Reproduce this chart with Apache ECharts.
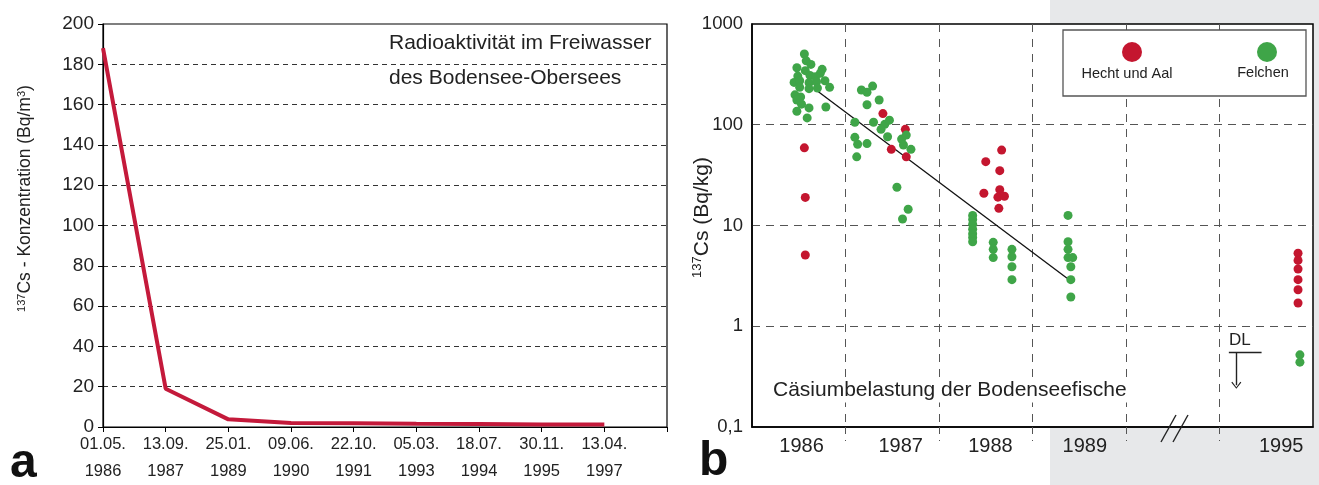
<!DOCTYPE html>
<html lang="de">
<head>
<meta charset="UTF-8">
<title>Cäsium im Bodensee</title>
<script src="https://cdn.jsdelivr.net/npm/echarts@6/dist/echarts.min.js"></script>
<style>
  html, body { margin: 0; padding: 0; }
  #chart { width: 1319px; height: 485px; }
</style>
</head>
<body>
<div id="chart"></div>
<script>
// --- Daten ---
// a: Freiwasser
var waterDates = ['01.05.\n1986', '13.09.\n1987', '25.01.\n1989', '09.06.\n1990', '22.10.\n1991',
                  '05.03.\n1993', '18.07.\n1994', '30.11.\n1995', '13.04.\n1997'];
var waterValues = [188, 19, 3.8, 2, 1.8, 1.6, 1.5, 1.3, 1.2];

// b: Fische  [x-Position (Abschnitt), Bq/kg]
var hechtAal = [
  [0.56, 59], [0.57, 19], [0.57, 5.1],
  [1.40, 129], [1.64, 90], [1.49, 57], [1.65, 48],
  [2.67, 56], [2.50, 43], [2.65, 35], [2.65, 22.7], [2.48, 20.9], [2.63, 19.1], [2.70, 19.5], [2.64, 14.8],
  [5.84, 5.3], [5.84, 4.5], [5.84, 3.7], [5.84, 2.9], [5.84, 2.3], [5.84, 1.7]
];
var felchen = [
  [0.56, 504], [0.58, 431], [0.63, 397], [0.48, 368], [0.57, 344], [0.75, 355], [0.73, 324],
  [0.49, 304], [0.62, 309], [0.68, 299], [0.45, 263], [0.51, 273], [0.61, 261], [0.69, 267],
  [0.78, 273], [0.51, 235], [0.61, 228], [0.70, 231], [0.83, 235], [0.46, 198], [0.52, 189],
  [0.48, 176], [0.53, 160], [0.61, 147], [0.79, 150], [0.48, 136], [0.59, 117],
  [1.17, 221], [1.23, 210], [1.29, 242], [1.36, 176], [1.23, 158], [1.10, 106], [1.30, 106],
  [1.42, 101], [1.47, 111], [1.38, 90], [1.45, 76], [1.10, 75], [1.13, 64], [1.23, 65],
  [1.12, 48], [1.60, 72], [1.65, 79], [1.62, 63], [1.70, 57], [1.55, 24], [1.67, 14.5], [1.61, 11.6],
  [2.36, 12.6], [2.36, 11.5], [2.36, 10.3], [2.36, 9.2], [2.36, 8.3], [2.36, 7.6], [2.36, 6.9],
  [2.58, 6.8], [2.58, 5.8], [2.58, 4.8],
  [2.78, 5.8], [2.78, 4.9], [2.78, 3.9], [2.78, 2.9],
  [3.38, 12.6], [3.38, 6.9], [3.38, 5.8], [3.38, 4.8], [3.43, 4.8], [3.41, 3.9], [3.41, 2.9], [3.41, 1.95],
  [5.86, 0.52], [5.86, 0.44]
];
var trend = [[0.66, 230], [3.37, 3.0]];
var yearPos = [0.53, 1.59, 2.55, 3.56, 5.66];
var yearLabels = ['1986', '1987', '1988', '1989', '1995'];
var sectionLines = [1, 2, 3, 4, 5];
var dlLevel = 0.55, dlFrom = 5.10, dlTo = 5.45, dlArrowX = 5.18, dlArrowEnd = 0.26;

var font = "'Liberation Sans', Arial, sans-serif";
var red = '#c4162f', green = '#3fa548', ink = '#222';

var chart = echarts.init(document.getElementById('chart'));

var option = {
  animation: false,
  backgroundColor: {
    type: 'linear', x: 0, y: 0, x2: 1, y2: 0,
    colorStops: [
      { offset: 0, color: '#ffffff' },
      { offset: 1050 / 1319, color: '#ffffff' },
      { offset: 1050 / 1319, color: '#e7e8ea' },
      { offset: 1, color: '#e7e8ea' }
    ]
  },
  grid: [
    { left: 103, top: 24, width: 564, height: 403, show: true, backgroundColor: '#fff', borderColor: '#000', borderWidth: 1.2 },
    { left: 752, top: 24, width: 561, height: 403, show: true, backgroundColor: '#fff', borderColor: '#000', borderWidth: 1.5 }
  ],
  xAxis: [
    {
      gridIndex: 0, type: 'value', min: 0, max: 9, interval: 1,
      axisLine: { lineStyle: { color: '#000', width: 1.2 } },
      axisTick: { show: true, length: 5, lineStyle: { color: '#000' } },
      splitLine: { show: false },
      axisLabel: {
        margin: 4, color: ink, fontFamily: font, fontSize: 16.5, lineHeight: 27,
        formatter: function (v) { return waterDates[v] || ''; }
      }
    },
    {
      gridIndex: 1, type: 'value', min: 0, max: 6,
      axisLine: { lineStyle: { color: '#000', width: 1.5 } },
      axisTick: { show: true, customValues: sectionLines, length: 14, lineStyle: { color: '#555', type: [7, 6] } },
      splitLine: { show: true, lineStyle: { color: '#555', type: [8, 7], width: 1 } },
      axisLabel: {
        customValues: yearPos, margin: 9, color: ink, fontFamily: font, fontSize: 20,
        formatter: function (v) {
          var i = yearPos.indexOf(v);
          return i >= 0 ? yearLabels[i] : '';
        }
      }
    }
  ],
  yAxis: [
    {
      gridIndex: 0, type: 'value', min: 0, max: 200, interval: 20,
      name: '{sup|137}Cs - Konzentration (Bq/m{sup|3})',
      nameLocation: 'middle', nameRotate: 90, nameGap: 68, nameMoveOverlap: false,
      nameTextStyle: {
        color: ink, fontFamily: font, fontSize: 17.5, padding: [0, 0, 0, 54],
        rich: { sup: { fontSize: 11, verticalAlign: 'top', padding: [0, 0, 8, 0], fontFamily: font, color: ink } }
      },
      axisLine: { show: true, lineStyle: { color: '#000', width: 1.2 } },
      axisTick: { show: true, length: 5, lineStyle: { color: '#000' } },
      splitLine: { show: true, showMinLine: false, showMaxLine: false, lineStyle: { color: '#333', type: [5, 4], width: 1 } },
      axisLabel: { margin: 9, color: ink, fontFamily: font, fontSize: 19 }
    },
    {
      gridIndex: 1, type: 'log', logBase: 10, min: 0.1, max: 1000,
      name: '{sup|137}Cs (Bq/kg)',
      nameLocation: 'middle', nameRotate: 90, nameGap: 39, nameMoveOverlap: false,
      nameTextStyle: {
        color: ink, fontFamily: font, fontSize: 21, padding: [0, 0, 0, 16],
        rich: { sup: { fontSize: 13, verticalAlign: 'top', padding: [0, 0, 9, 0], fontFamily: font, color: ink } }
      },
      axisLine: { show: true, lineStyle: { color: '#000', width: 1.5 } },
      axisTick: { show: false },
      splitLine: { show: true, showMinLine: false, showMaxLine: false, lineStyle: { color: '#555', type: [8, 6], width: 1 } },
      axisLabel: {
        margin: 9, color: ink, fontFamily: font, fontSize: 18.5,
        formatter: function (v) { return v < 1 ? '0,1' : String(Math.round(v)); }
      }
    }
  ],
  legend: [
    { data: ['Hecht und Aal'], left: 1117, top: 36, icon: 'circle', itemWidth: 20, itemHeight: 22,
      formatter: function () { return ''; }, selectedMode: false, z: 6 },
    { data: ['Felchen'], left: 1252, top: 36, icon: 'circle', itemWidth: 20, itemHeight: 22,
      formatter: function () { return ''; }, selectedMode: false, z: 6 }
  ],
  series: [
    {
      name: 'Freiwasser', type: 'line', xAxisIndex: 0, yAxisIndex: 0,
      data: waterValues.map(function (v, i) { return [i, v]; }),
      showSymbol: false, lineStyle: { color: '#c41a3b', width: 4 }, itemStyle: { color: '#c41a3b' }
    },
    {
      name: 'Trend', type: 'line', xAxisIndex: 1, yAxisIndex: 1, data: trend,
      showSymbol: false, lineStyle: { color: '#111', width: 1.3 }, z: 3
    },
    {
      name: 'Hecht und Aal', type: 'scatter', xAxisIndex: 1, yAxisIndex: 1, data: hechtAal,
      symbolSize: 9, itemStyle: { color: red, opacity: 1 }, z: 4
    },
    {
      name: 'Felchen', type: 'scatter', xAxisIndex: 1, yAxisIndex: 1, data: felchen,
      symbolSize: 9, itemStyle: { color: green, opacity: 1 }, z: 4,
      markLine: {
        silent: true, symbol: 'none', animation: false,
        lineStyle: { color: '#222', width: 1.4, type: 'solid' },
        data: [
          [{ coord: [dlFrom, dlLevel], symbol: 'none' }, { coord: [dlTo, dlLevel], symbol: 'none' }],
          [{ coord: [dlArrowX, dlLevel], symbol: 'none' },
           { coord: [dlArrowX, dlArrowEnd], symbol: 'path://M5,0L10,9L9,10L5,2L1,10L0,9Z', symbolSize: [10, 7] }]
        ],
        label: { show: false }
      }
    }
  ],
  graphic: [
    { type: 'text', left: 389, top: 33, z: 5,
      style: { text: 'Radioaktivität im Freiwasser', font: '21px ' + font, fill: ink } },
    { type: 'text', left: 389, top: 68, z: 5,
      style: { text: 'des Bodensee-Obersees', font: '21px ' + font, fill: ink } },
    { type: 'text', left: 10, top: 440, z: 5,
      style: { text: 'a', font: 'bold 48px ' + font, fill: '#111' } },
    { type: 'text', left: 699, top: 438, z: 5,
      style: { text: 'b', font: 'bold 48px ' + font, fill: '#111' } },
    { type: 'rect', z: 5, shape: { x: 1063, y: 30, width: 243, height: 66 },
      style: { fill: '#fff', stroke: '#555', lineWidth: 1.3 } },
    { type: 'text', z: 7, x: 1127, y: 74,
      style: { text: 'Hecht und Aal', font: '14.5px ' + font, fill: ink, textAlign: 'center', textVerticalAlign: 'middle' } },
    { type: 'text', z: 7, x: 1263, y: 73,
      style: { text: 'Felchen', font: '14.5px ' + font, fill: ink, textAlign: 'center', textVerticalAlign: 'middle' } },
    { type: 'text', z: 6, x: 771, y: 390,
      style: { text: 'Cäsiumbelastung der Bodenseefische', font: '21px ' + font, fill: ink,
               textVerticalAlign: 'middle', backgroundColor: '#fff', padding: [2, 2, 2, 2] } },
    { type: 'text', z: 6, x: 1229, y: 340,
      style: { text: 'DL', font: '17px ' + font, fill: ink, textVerticalAlign: 'middle' } },
    { type: 'line', z: 6, shape: { x1: 1176, y1: 415, x2: 1161, y2: 442 }, style: { stroke: '#222', lineWidth: 1.4 } },
    { type: 'line', z: 6, shape: { x1: 1188, y1: 415, x2: 1173, y2: 442 }, style: { stroke: '#222', lineWidth: 1.4 } }
  ]
};

chart.setOption(option);
</script>
</body>
</html>
